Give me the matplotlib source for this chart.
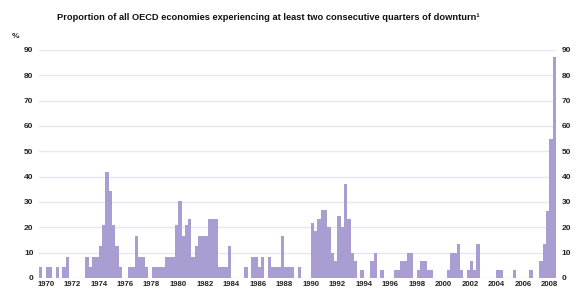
import numpy as np
import matplotlib
matplotlib.use("Agg")
import matplotlib.pyplot as plt

plt.rcParams['font.family'] = ['Liberation Sans', 'DejaVu Sans']

# quarterly share (%) of OECD economies in downturn, 1970Q1 - 2008Q4
years = list(range(1970, 2009))
share = [
    4.2, 0, 4.2, 4.2,        # 1970
    0, 4.2, 0, 4.2,          # 1971
    8.3, 0, 0, 0,            # 1972
    0, 0, 8.3, 4.2,          # 1973
    8.3, 8.3, 12.5, 20.8,    # 1974
    41.7, 34.5, 20.8, 12.5,  # 1975
    4.2, 0, 0, 4.2,          # 1976
    4.2, 16.7, 8.3, 8.3,     # 1977
    4.2, 0, 4.2, 4.2,        # 1978
    4.2, 4.2, 8.3, 8.3,      # 1979
    8.3, 20.8, 30.5, 16.7,   # 1980
    20.8, 23.3, 8.3, 12.5,   # 1981
    16.7, 16.7, 16.7, 23.3,  # 1982
    23.3, 23.3, 4.2, 4.2,    # 1983
    4.2, 12.5, 0, 0,         # 1984
    0, 0, 4.2, 0,            # 1985
    8.3, 8.3, 4.2, 8.3,      # 1986
    0, 8.3, 4.2, 4.2,        # 1987
    4.2, 16.7, 4.2, 4.2,     # 1988
    4.2, 0, 4.2, 0,          # 1989
    0, 0, 21.7, 18.4,        # 1990
    23.3, 27, 27, 20,        # 1991
    10, 6.7, 24.3, 20,       # 1992
    37, 23.3, 10, 6.7,       # 1993
    0, 3.3, 0, 0,            # 1994
    6.7, 10, 0, 3.3,         # 1995
    0, 0, 0, 3.3,            # 1996
    3.3, 6.7, 6.7, 10,       # 1997
    10, 0, 3.3, 6.7,         # 1998
    6.7, 3.3, 3.3, 0,        # 1999
    0, 0, 0, 3.3,            # 2000
    10, 10, 13.3, 3.3,       # 2001
    0, 3.3, 6.7, 3.3,        # 2002
    13.3, 0, 0, 0,           # 2003
    0, 0, 3.3, 3.3,          # 2004
    0, 0, 0, 3.3,            # 2005
    0, 0, 0, 0,              # 2006
    3.3, 0, 0, 6.7,          # 2007
    13.3, 26.3, 55, 87.4,    # 2008
]
year_labels = [str(y) for y in years[::2]]
y_ticks = list(range(0, 100, 10))

title = "Proportion of all OECD economies experiencing at least two consecutive quarters of downturn\u00b9"

x = np.array([y + q / 4 for y in years for q in range(4)])

fig = plt.figure(figsize=(5.76, 2.89), dpi=100)
ax = fig.add_axes([39 / 576, 11 / 289, 517 / 576, 228 / 289])

ax.bar(x, share, width=0.25, align='edge', color='#aa9dd2', linewidth=0, zorder=2)

ax.set_xlim(1970, 2009)
ax.set_ylim(0, 90)
ax.set_yticks(y_ticks)
ax.set_xticks([y + 0.5 for y in years[::2]])
ax.set_xticklabels(year_labels)
ax.grid(axis='y', color='#e8e6f6', linewidth=1.0, zorder=0)
ax.set_axisbelow(True)
for sp in ax.spines.values():
    sp.set_visible(False)
ax.tick_params(axis='both', length=0, colors='#222222', labelsize=6)
ax.tick_params(axis='y', labelright=True, labelleft=True, pad=4)
ax.tick_params(axis='x', pad=2, labelsize=5.6)
for lab in ax.get_xticklabels() + ax.get_yticklabels():
    lab.set_fontweight('bold')

fig.text(268 / 576, 1 - 18 / 289, title, ha='center', va='center',
         fontsize=6.7, fontweight='bold', color='#111111')
fig.text(12 / 576, 1 - 37 / 289, "%", ha='left', va='center',
         fontsize=6, fontweight='bold', color='#222222')

fig.savefig("out.png", dpi=100)
